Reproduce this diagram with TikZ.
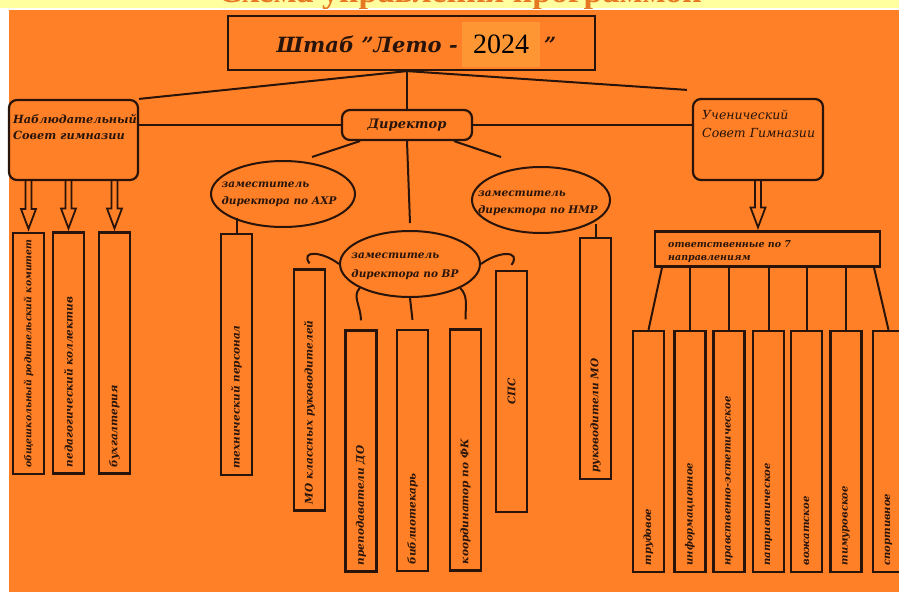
\documentclass[tikz,border=0pt]{standalone}
\usepackage{fontspec}
\setmainfont{DejaVu Serif}
\newfontfamily\numfont{Liberation Serif}
\usetikzlibrary{shapes.geometric,calc}

\definecolor{bg}{RGB}{255,128,38}
\definecolor{patch}{RGB}{255,150,52}
\definecolor{band}{RGB}{255,255,160}
\definecolor{ink}{RGB}{40,20,10}
\definecolor{ttl}{RGB}{230,120,35}

\def\bw{31}
\def\bl{241}
\newcommand\vlab[1]{\makebox[228pt][l]{#1}}

\tikzstyle{box}=[draw=ink,line width=2.2pt,inner sep=0pt]
\tikzstyle{rbox}=[box,rounded corners=8pt]
\tikzstyle{ell}=[ellipse,draw=ink,line width=2pt,inner sep=0pt,minimum height=66]
\tikzstyle{vbox}=[box,rotate=90,minimum width=\bl,minimum height=\bw,text=ink,font=\bfseries\itshape\fontsize{10.5}{12}\selectfont]
\tikzstyle{txt}=[align=left,inner sep=0pt,text=ink]
\tikzstyle{edge}=[draw=ink,line width=2pt]

% rotated boxes: .east is the top, .west the bottom
\newcommand\hollowarr[2]{%
  \draw[edge,line width=1.8pt,line join=miter] let \p1=(#1),\p2=(#2) in
    (\x1-3pt,\y1) -- (\x1-3pt,\y2+23pt) -- (\x1-7.5pt,\y2+23pt) -- (\x1,\y2+3pt)
    -- (\x1+7.5pt,\y2+23pt) -- (\x1+3pt,\y2+23pt) -- (\x1+3pt,\y1);}

\begin{document}
\begin{tikzpicture}[x=1pt,y=-1pt]
\useasboundingbox (0,0) rectangle (899,592);
% background
\fill[band] (0,0) rectangle (899,8);
\fill[white] (0,8) rectangle (899,10);
\fill[white] (0,10) rectangle (9,592);
\fill[bg] (9,10) rectangle (899,592);
\begin{scope}
\clip (0,0) rectangle (899,8);
\node[text=ttl,inner sep=0pt,anchor=base,font=\numfont\bfseries\fontsize{34}{34}\selectfont] (head) at (460,2) {Схема управления программой};
\end{scope}

% top
\node[box,minimum width=367,minimum height=54] (shtab) at (411.5,43) {};
\node[txt,anchor=base east,font=\bfseries\itshape\fontsize{21}{21}\selectfont] (shtabt) at (458,52) {Штаб "Лето -};
\node[txt,anchor=base west,font=\bfseries\itshape\fontsize{21}{21}\selectfont] (shtabq) at (544,52) {"};
\node[fill=patch,minimum width=78,minimum height=45,inner sep=0pt,font=\numfont\fontsize{28}{28}\selectfont] (year) at (501,44.5) {2024};

\node[rbox,minimum width=129,minimum height=80] (nab) at (73.5,140) {};
\node[txt,anchor=north west,font=\bfseries\itshape\fontsize{11.3}{16}\selectfont] (nabt) at (13,114) {Наблюдательный\\Совет гимназии};
\node[rbox,minimum width=130,minimum height=30,text=ink,font=\bfseries\itshape\fontsize{13}{13}\selectfont] (dir) at (407,125) {Директор};
\node[rbox,minimum width=130,minimum height=81] (uch) at (758,139.5) {};
\node[txt,anchor=north west,font=\itshape\fontsize{12.5}{18}\selectfont] (ucht) at (702,110) {Ученический\\Совет Гимназии};

% deputies
\node[ell,minimum width=144] (axr) at (283,194) {};
\node[txt,font=\bfseries\itshape\fontsize{10.5}{17}\selectfont] (axrt) at (279,194) {заместитель\\директора по АХР};
\node[ell,minimum width=138] (nmr) at (541,200) {};
\node[txt,font=\bfseries\itshape\fontsize{10.5}{17}\selectfont] (nmrt) at (538,203) {заместитель\\директора по НМР};
\node[ell,minimum width=140] (vr) at (410,264) {};
\node[txt,font=\bfseries\itshape\fontsize{10.5}{19}\selectfont] (vrt) at (405,266) {заместитель\\директора по ВР};

% boxes
\node[vbox,font=\bfseries\itshape\fontsize{9.3}{12}\selectfont] (k1) at (28.5,353.5) {\vlab{общешкольный родительский комитет}};
\node[vbox] (k2) at (68.5,353) {\vlab{педагогический коллектив}};
\node[vbox] (k3) at (114.5,353) {\vlab{бухгалтерия}};
\node[vbox] (tp) at (236.5,354.5) {\vlab{технический персонал}};
\node[vbox] (mo) at (309.5,390) {\vlab{МО классных руководителей}};
\node[vbox] (pdo) at (361,451) {\vlab{преподаватели ДО}};
\node[vbox] (bib) at (412.5,450.5) {\vlab{библиотекарь}};
\node[vbox] (fk) at (465.5,450) {\vlab{координатор по ФК}};
\node[vbox] (sps) at (511.5,391.5) {\makebox[228pt][c]{СПС}};
\node[vbox] (rmo) at (595.5,358.5) {\vlab{руководители МО}};

\node[box,minimum width=225,minimum height=35] (otv) at (767.5,249) {};
\node[txt,anchor=north west,font=\bfseries\itshape\fontsize{9.5}{13}\selectfont] (otvt) at (668,240) {ответственные по 7\\направлениям};
\foreach \n/\x/\t in {d1/648.5/трудовое,d2/690/информационное,d3/729/нравственно-эстетическое,d4/768.5/патриотическое,d5/806.5/вожатское,d6/846/тимуровское,d7/888.5/спортивное}
  \node[vbox,font=\bfseries\itshape\fontsize{10}{12}\selectfont] (\n) at (\x,451.5) {\vlab{\t}};

% lines
\coordinate (hub) at (dir.north |- shtab.south);
\draw[edge] (hub) -- (dir.north);
\draw[edge] (hub) -- (nab.north east);
\draw[edge] (hub) -- ([shift={(-5,-8)}]uch.north west);
\draw[edge] (nab.east |- dir.west) -- (dir.west);
\draw[edge] (dir.east) -- (dir.east -| uch.west);
\coordinate (c1) at (312,157);
\coordinate (c2) at (501,157);
\draw[edge] ([xshift=-47]dir.south) -- (c1);
\draw[edge] ([xshift=47]dir.south) -- (c2);
\draw[edge] (dir.south) -- ([yshift=7]vr.north);
\draw[edge] (tp.east |- axr.south west) -- (tp.east);
\draw[edge] (rmo.east |- nmr.south east) -- (rmo.east);
\draw[edge] (vr.west) .. controls (322,251) and (300,250) .. ([yshift=5]mo.east);
\draw[edge] (vr.east) .. controls (498,251) and (522,250) .. ([yshift=5]sps.east);
\draw[edge] (vr.south west) .. controls +(-8,8) and +(0,-14) .. ([yshift=9]pdo.east);
\draw[edge] (vr.south) -- ([yshift=9]bib.east);
\draw[edge] (vr.south east) .. controls +(8,8) and +(0,-14) .. ([yshift=9]fk.east);
\foreach \n/\t in {d1/662,d2/690,d3/729,d4/768.5,d5/806.5,d6/846,d7/874}
  \draw[edge] (\t,0 |- otv.south) -- (\n.east);

% arrows
\hollowarr{k1.east |- nab.south}{k1.east}
\hollowarr{k2.east |- nab.south}{k2.east}
\hollowarr{k3.east |- nab.south}{k3.east}
\hollowarr{uch.south}{uch.south |- otv.north}
\end{tikzpicture}
\end{document}
